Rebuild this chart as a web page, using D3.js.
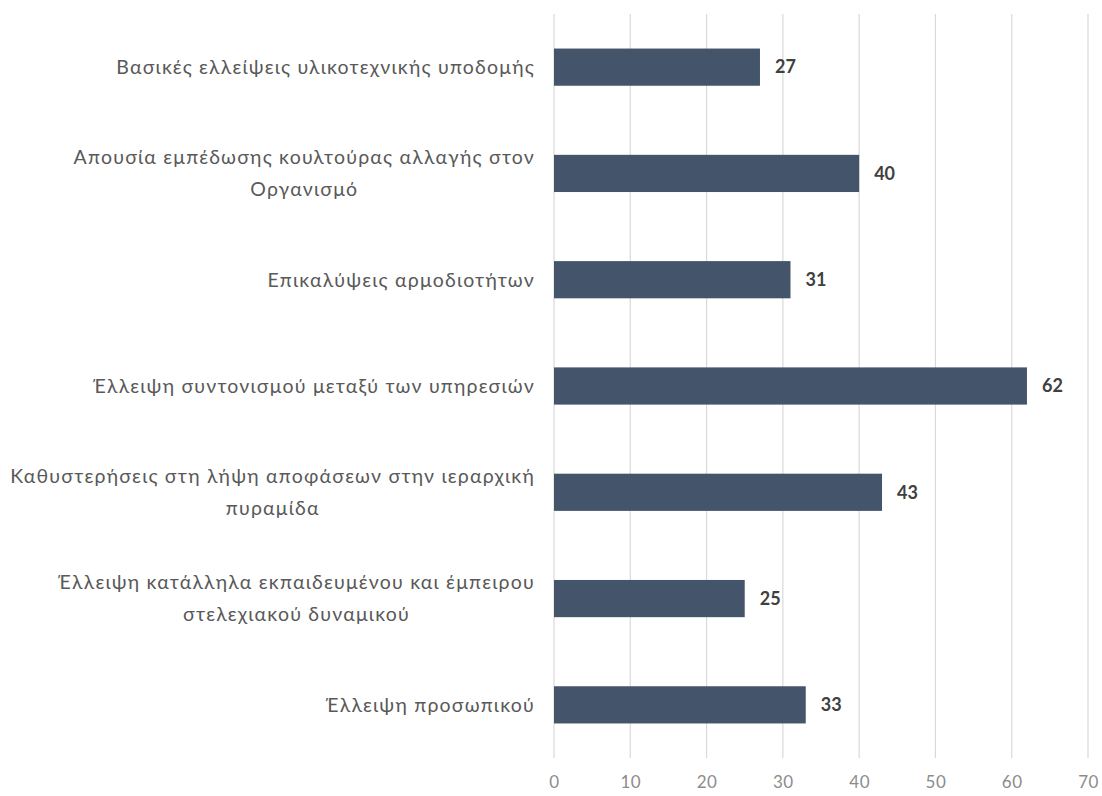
<!DOCTYPE html>
<html>
<head>
<meta charset="utf-8">
<script src="https://cdn.jsdelivr.net/npm/d3@7"></script>
<style>
  html, body { margin: 0; padding: 0; background: #ffffff; }
  svg { display: block; }
</style>
</head>
<body>
<svg id="chart" width="1102" height="796"></svg>
<script>
// Categories, top to bottom ("\n" marks a line break in the label)
const categories = [
  "Βασικές ελλείψεις υλικοτεχνικής υποδομής",
  "Απουσία εμπέδωσης κουλτούρας αλλαγής στον\nΟργανισμό",
  "Επικαλύψεις αρμοδιοτήτων",
  "Έλλειψη συντονισμού μεταξύ των υπηρεσιών",
  "Καθυστερήσεις στη λήψη αποφάσεων στην ιεραρχική\nπυραμίδα",
  "Έλλειψη κατάλληλα εκπαιδευμένου και έμπειρου\nστελεχιακού δυναμικού",
  "Έλλειψη προσωπικού"
];
const values = [27, 40, 31, 62, 43, 25, 33];
const xTicks = [0, 10, 20, 30, 40, 50, 60, 70];

const svg = d3.select("#chart");
const margin = { top: 14, right: 14, bottom: 38, left: 554 };
const width = 1102, height = 796;
const plotW = width - margin.left - margin.right;
const plotH = height - margin.top - margin.bottom;

const x = d3.scaleLinear().domain([0, 70]).range([0, plotW]);
const y = d3.scaleBand().domain(categories).range([0, plotH]).paddingInner(0.65).paddingOuter(0.325);

const g = svg.append("g").attr("transform", `translate(${margin.left},${margin.top})`);

// Vertical gridlines
g.append("g")
  .selectAll("line")
  .data(xTicks)
  .join("line")
  .attr("x1", d => x(d)).attr("x2", d => x(d))
  .attr("y1", 0).attr("y2", plotH)
  .attr("stroke", "#d9d9d9")
  .attr("stroke-width", 1.2);

// Bottom axis tick labels
const xAxis = d3.axisBottom(x).tickValues(xTicks).tickSize(0).tickPadding(18);
const ax = g.append("g").attr("transform", `translate(0,${plotH})`).call(xAxis);
ax.select(".domain").remove();
ax.selectAll("text")
  .attr("fill", "#8c8c8c")
  .style("font-family", "Lato, 'Open Sans', sans-serif")
  .style("font-size", "17px")
  .style("letter-spacing", "0.5px");

// Bars
g.append("g")
  .selectAll("rect")
  .data(values)
  .join("rect")
  .attr("x", x(0))
  .attr("y", (d, i) => y(categories[i]))
  .attr("width", d => x(d) - x(0))
  .attr("height", y.bandwidth())
  .attr("fill", "#44546a");

// Value labels
g.append("g")
  .selectAll("text")
  .data(values)
  .join("text")
  .attr("x", d => x(d) + 15)
  .attr("y", (d, i) => y(categories[i]) + y.bandwidth() / 2)
  .attr("dy", "0.35em")
  .attr("fill", "#404040")
  .style("font-family", "Lato, 'Open Sans', sans-serif")
  .style("font-size", "18px")
  .style("font-weight", "bold")
  .text(d => d);

// Category labels: block right-aligned to the axis, lines centred within it
const labelRight = -19;
const lineH = 32;
const labels = g.append("g")
  .selectAll("g")
  .data(categories)
  .join("g")
  .attr("transform", d => `translate(0,${y(d) + y.bandwidth() / 2})`);

labels.each(function(d) {
  const lines = d.split("\n");
  const grp = d3.select(this);
  const texts = grp.selectAll("text")
    .data(lines)
    .join("text")
    .attr("y", (l, i) => (i - (lines.length - 1) / 2) * lineH)
    .attr("dy", "0.35em")
    .attr("fill", "#595959")
    .style("font-family", "Lato, 'Open Sans', sans-serif")
    .style("font-size", "19.5px")
    .style("letter-spacing", "1.2px")
    .text(l => l);
  const widths = [];
  texts.each(function() { widths.push(this.getComputedTextLength()); });
  const maxW = d3.max(widths);
  texts.attr("text-anchor", "middle").attr("x", labelRight - maxW / 2);
});
</script>
</body>
</html>
